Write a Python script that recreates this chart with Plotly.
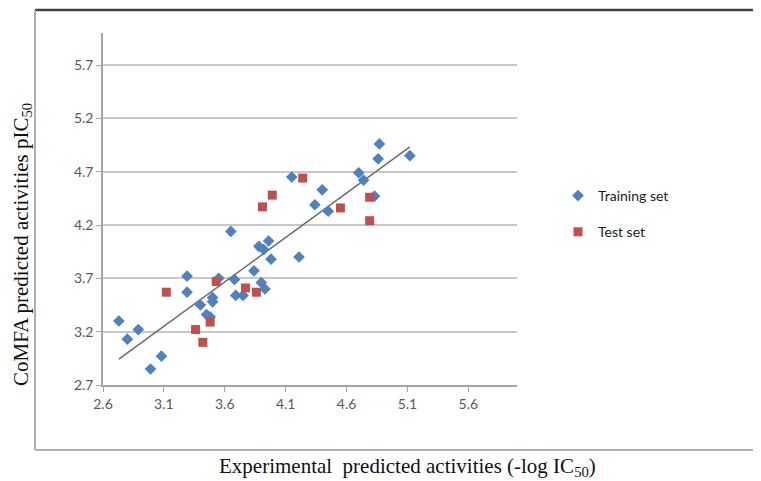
import numpy as np
import plotly.graph_objects as go

# Training set (blue diamonds)
train_x = [4.15, 3.65, 3.96, 3.88, 3.92, 3.98, 4.21, 3.29, 3.29, 3.55, 3.68, 3.84,
           3.90, 3.93, 3.69, 3.75, 3.50, 3.50, 3.40, 3.45, 3.48, 2.73, 2.89, 2.80,
           3.08, 2.99, 4.87, 5.12, 4.86, 4.70, 4.74, 4.40, 4.34, 4.45, 4.83]
train_y = [4.65, 4.14, 4.05, 4.00, 3.97, 3.88, 3.90, 3.72, 3.57, 3.70, 3.69, 3.77,
           3.66, 3.60, 3.54, 3.54, 3.52, 3.48, 3.45, 3.36, 3.34, 3.30, 3.22, 3.13,
           2.97, 2.85, 4.96, 4.85, 4.82, 4.69, 4.62, 4.53, 4.39, 4.33, 4.47]

# Test set (red squares)
test_x = [3.99, 3.91, 3.53, 3.77, 3.86, 3.12, 3.48, 3.36, 3.42, 4.24, 4.55, 4.79, 4.79]
test_y = [4.48, 4.37, 3.67, 3.61, 3.57, 3.57, 3.29, 3.22, 3.10, 4.64, 4.36, 4.46, 4.24]

x_ticks = [2.6, 3.1, 3.6, 4.1, 4.6, 5.1, 5.6]
y_ticks = [2.7, 3.2, 3.7, 4.2, 4.7, 5.2, 5.7]

# Linear trendline fitted on the training set
slope, intercept = np.polyfit(train_x, train_y, 1)
trend_x = np.array([min(train_x), max(train_x)])
trend_y = slope * trend_x + intercept

fig = go.Figure()
fig.add_trace(go.Scatter(
    x=trend_x, y=trend_y, mode="lines",
    line=dict(color="#6b6b6b", width=1.5), showlegend=False, hoverinfo="skip"))
fig.add_trace(go.Scatter(
    x=train_x, y=train_y, mode="markers", name="Training set", legendgroup="a",
    marker=dict(symbol="diamond", size=9, color="#4F81BD")))
fig.add_trace(go.Scatter(
    x=test_x, y=test_y, mode="markers", name="Test set", legendgroup="b",
    marker=dict(symbol="square", size=9, color="#C0504D")))

# page body has an 8px margin, so the figure is placed at (8, 8) on screen
OFF = 8
PL, PR, PT, PB = 103, 517, 33, 385          # plot area in screen pixels
W, H = 761 - OFF, 481 - OFF
L, T = PL - OFF, PT - OFF
R, B = 761 - PR, 481 - PB
pw, ph = PR - PL, PB - PT

def px(x):
    return (x - PL) / pw

def py(y):
    return (PB - y) / ph

tick_font = dict(family="Lato, 'Open Sans', sans-serif", size=14, color="#595959")
title_font = dict(family="'Liberation Serif', serif", size=21, color="#111111")

fig.update_layout(
    width=W, height=H,
    margin=dict(l=L, r=R, t=T, b=B),
    paper_bgcolor="white", plot_bgcolor="white",
    xaxis=dict(range=[2.6, 6.0], tickvals=x_ticks, ticktext=[str(v) for v in x_ticks],
               showgrid=False, zeroline=False, showline=True, linecolor="#a6a6a6",
               linewidth=1.5, ticks="outside", ticklen=5, tickcolor="#a6a6a6",
               tickfont=tick_font),
    yaxis=dict(range=[2.7, 6.0], tickvals=y_ticks, ticktext=[str(v) for v in y_ticks],
               showgrid=True, gridcolor="#c8c8c8", gridwidth=2, zeroline=False,
               showline=True, linecolor="#a6a6a6", linewidth=1.5, ticks="outside",
               ticklen=5, tickcolor="#a6a6a6", tickfont=tick_font),
    legend=dict(x=px(558), y=py(180), xanchor="left", yanchor="top",
                font=dict(family="Lato, 'Open Sans', sans-serif", size=14, color="#1a1a1a"),
                tracegroupgap=15, bgcolor="rgba(0,0,0,0)"),
    shapes=[
        dict(type="line", xref="paper", yref="paper", x0=px(35), x1=px(770),
             y0=py(10), y1=py(10), line=dict(color="#404040", width=2.5)),
        dict(type="line", xref="paper", yref="paper", x0=px(35), x1=px(35),
             y0=py(10), y1=py(450), line=dict(color="#b0b0b0", width=2)),
        dict(type="line", xref="paper", yref="paper", x0=px(35), x1=px(770),
             y0=py(450), y1=py(450), line=dict(color="#b0b0b0", width=2)),
    ],
    annotations=[
        dict(text="Experimental  predicted activities (-log IC<sub>50</sub>)",
             xref="paper", yref="paper", x=px(407), y=py(467), showarrow=False,
             xanchor="center", yanchor="middle", font=title_font),
        dict(text="CoMFA predicted activities pIC<sub>50</sub>",
             xref="paper", yref="paper", x=px(22), y=py(245), showarrow=False,
             textangle=-90, xanchor="center", yanchor="middle", font=title_font),
    ],
)

fig.write_html("out.html")
